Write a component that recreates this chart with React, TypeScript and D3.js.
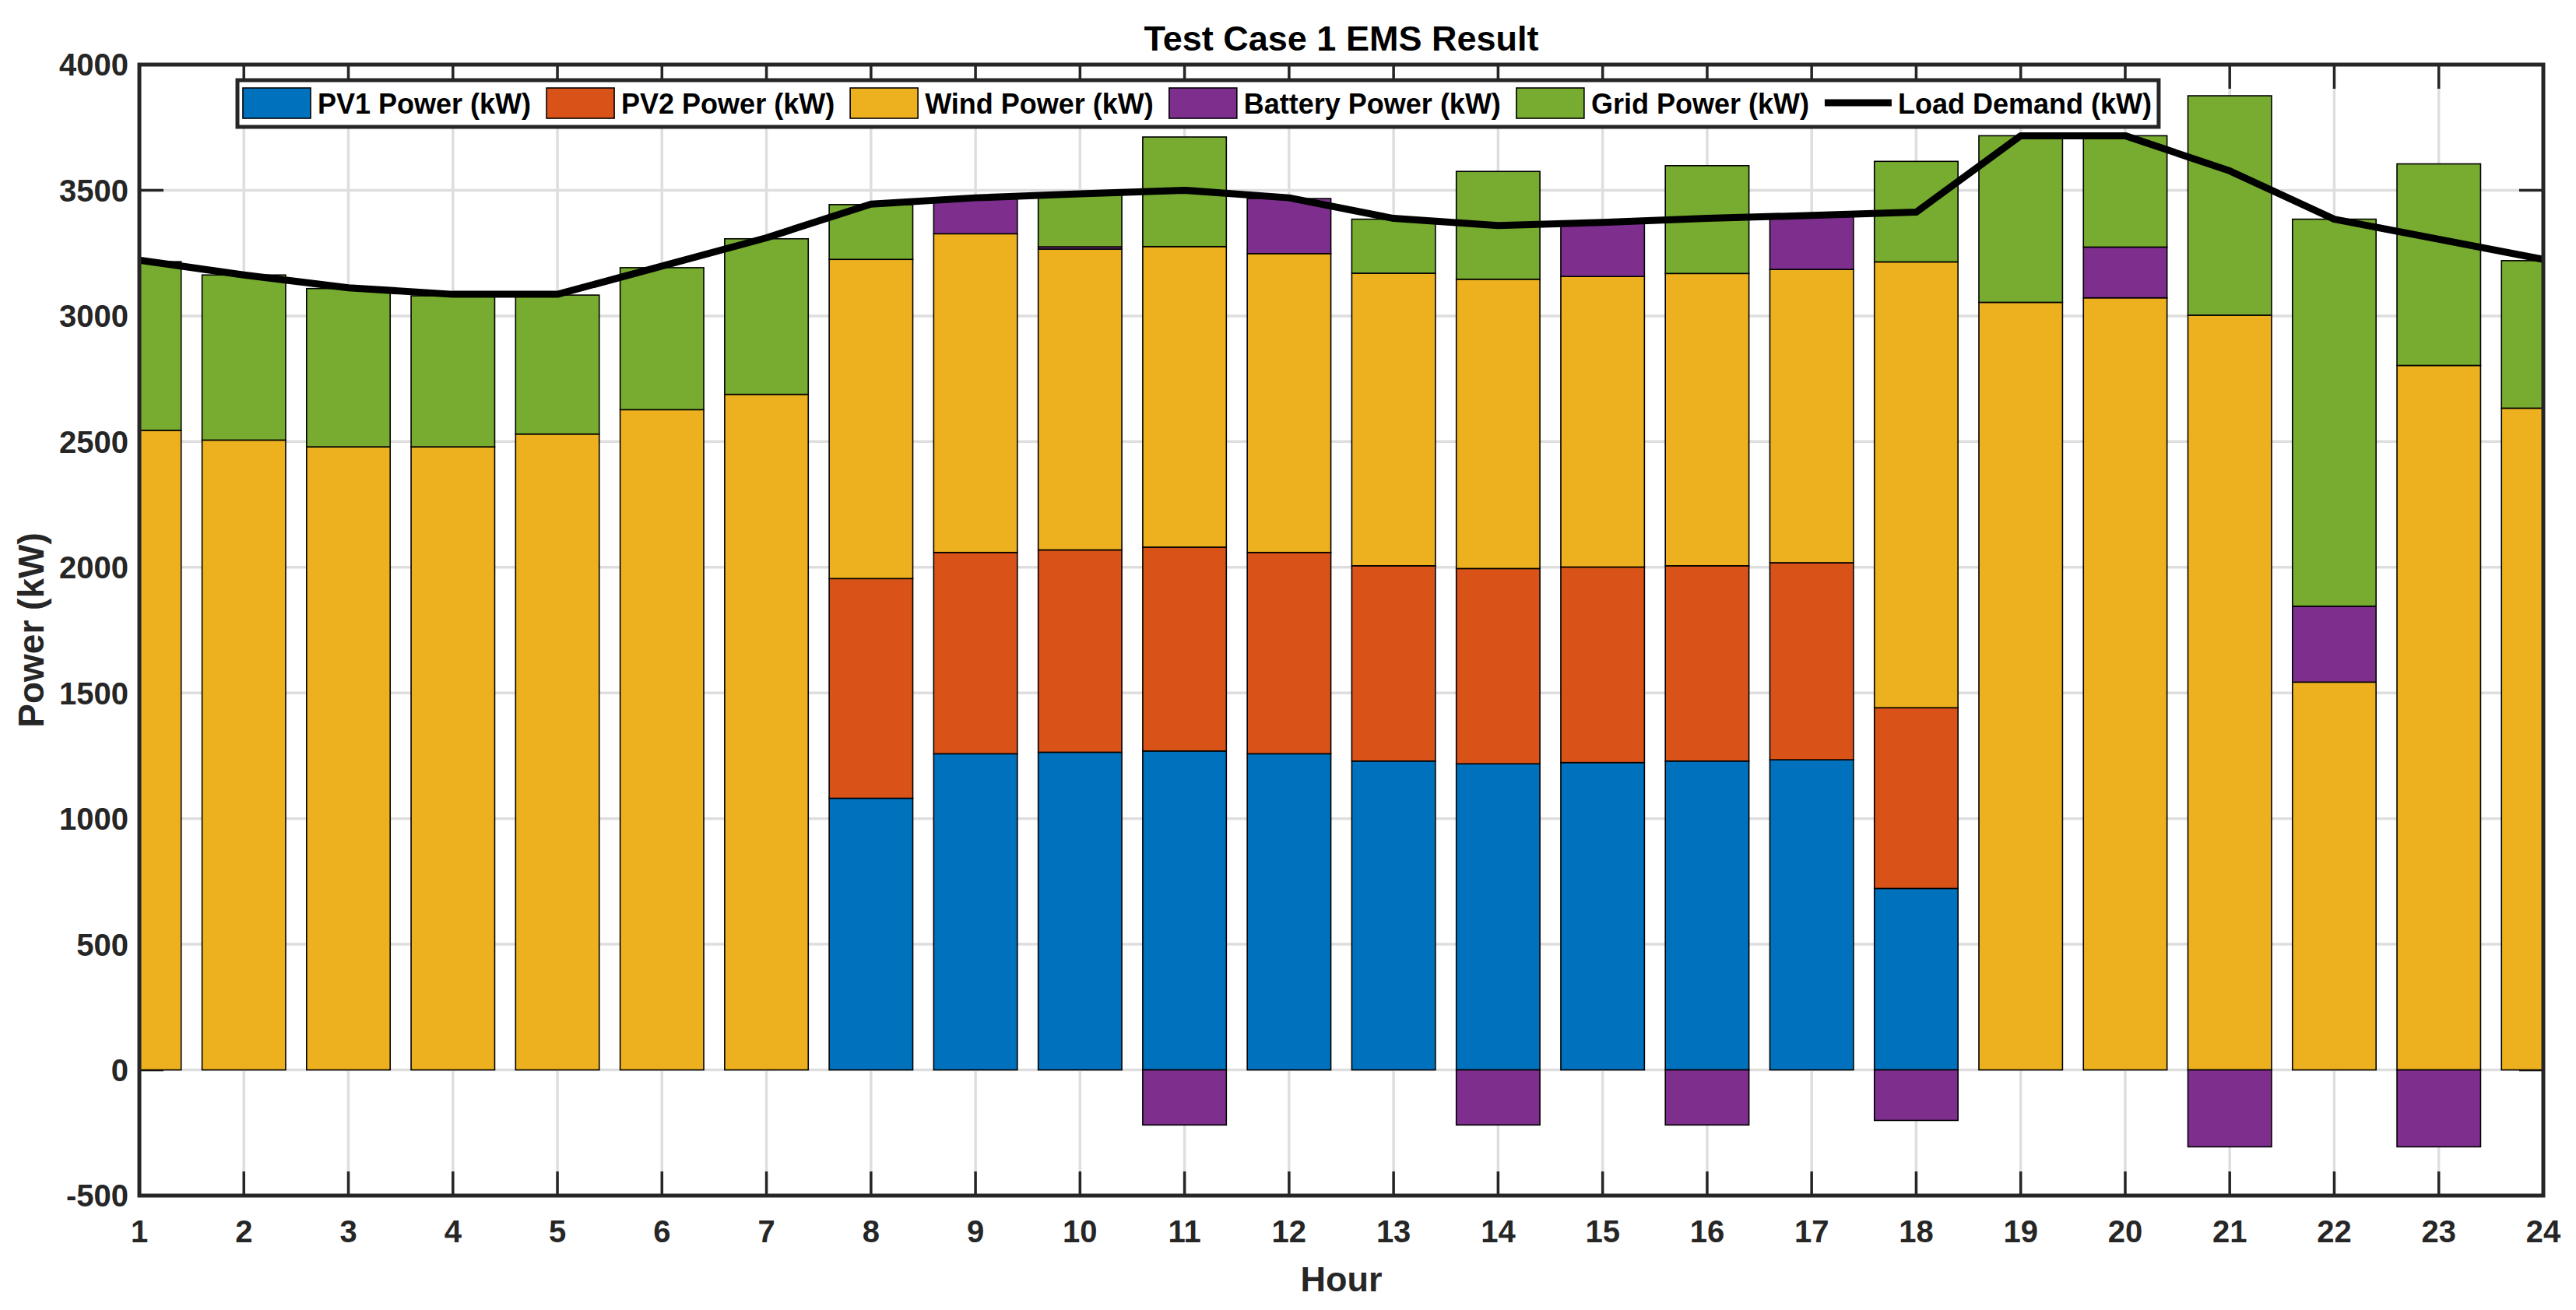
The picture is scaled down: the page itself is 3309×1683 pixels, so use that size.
import { useEffect, useRef } from "react";
import * as d3 from "d3";

const HOURS = [1, 2, 3, 4, 5, 6, 7, 8, 9, 10, 11, 12, 13, 14, 15, 16, 17, 18, 19, 20, 21, 22, 23, 24];

const PV1 = [0, 0, 0, 0, 0, 0, 0, 1081, 1258, 1264, 1269, 1258, 1229, 1218, 1223, 1229, 1234, 722, 0, 0, 0, 0, 0, 0];
const PV2 = [0, 0, 0, 0, 0, 0, 0, 874, 801, 805, 811, 801, 777, 777, 778, 777, 784, 719, 0, 0, 0, 0, 0, 0];
const WIND = [2545, 2506, 2479, 2479, 2530, 2627, 2688, 1270, 1268, 1197, 1196, 1189, 1164, 1151, 1156, 1163, 1167, 1774, 3054, 3072, 3003, 1543, 2803, 2633];
const BATTERY = [0, 0, 0, 0, 0, 0, 0, 0, 143, 9, -219, 219, 0, -219, 212, -219, 210, -201, 0, 202, -306, 302, -306, 0];
const GRID = [671, 657, 630, 601, 553, 565, 619, 218, 0, 207, 436, 0, 215, 429, 0, 429, 0, 400, 663, 443, 873, 1540, 802, 587];
const LOAD = [3222, 3163, 3112, 3086, 3086, 3198, 3311, 3445, 3470, 3486, 3500, 3470, 3388, 3360, 3372, 3388, 3400, 3413, 3717, 3717, 3577, 3385, 3305, 3225];

const Y_TICKS = [-500, 0, 500, 1000, 1500, 2000, 2500, 3000, 3500, 4000];

const SERIES = [
  { key: "pv1", label: "PV1 Power (kW)", color: "#0072BD", values: PV1 },
  { key: "pv2", label: "PV2 Power (kW)", color: "#D95319", values: PV2 },
  { key: "wind", label: "Wind Power (kW)", color: "#EDB120", values: WIND },
  { key: "battery", label: "Battery Power (kW)", color: "#7E2F8E", values: BATTERY },
  { key: "grid", label: "Grid Power (kW)", color: "#77AC30", values: GRID },
];
const LOAD_LABEL = "Load Demand (kW)";

const W = 3309;
const H = 1683;
const FONT = "'Liberation Sans', Arial, Helvetica, sans-serif";
const AXIS_COLOR = "#262626";

export default function App() {
  const svgRef = useRef<SVGSVGElement>(null);

  useEffect(() => {
    if (!svgRef.current) return;
    const svg = d3.select(svgRef.current);
    svg.selectAll("*").remove();

    const plot = { left: 179, right: 3267, top: 83, bottom: 1536 };
    const x = d3.scaleLinear().domain([1, 24]).range([plot.left, plot.right]);
    const y = d3.scaleLinear().domain([-500, 4000]).range([plot.bottom, plot.top]);

    svg.append("rect").attr("width", W).attr("height", H).attr("fill", "#fff");

    svg.append("defs").append("clipPath").attr("id", "plot-clip")
      .append("rect")
      .attr("x", plot.left).attr("y", plot.top)
      .attr("width", plot.right - plot.left).attr("height", plot.bottom - plot.top);

    // grid
    const grid = svg.append("g").attr("stroke", "#dedede").attr("stroke-width", 3.5);
    for (const h of HOURS) {
      grid.append("line").attr("x1", x(h)).attr("x2", x(h)).attr("y1", plot.top).attr("y2", plot.bottom);
    }
    for (const t of Y_TICKS) {
      grid.append("line").attr("x1", plot.left).attr("x2", plot.right).attr("y1", y(t)).attr("y2", y(t));
    }

    // inward ticks (drawn under the data, as MATLAB's bottom layer)
    const tickLen = 31;
    const ticks = svg.append("g").attr("stroke", AXIS_COLOR).attr("stroke-width", 3.5);
    for (const h of HOURS) {
      ticks.append("line").attr("x1", x(h)).attr("x2", x(h)).attr("y1", plot.bottom).attr("y2", plot.bottom - tickLen);
      ticks.append("line").attr("x1", x(h)).attr("x2", x(h)).attr("y1", plot.top).attr("y2", plot.top + tickLen);
    }
    for (const t of Y_TICKS) {
      ticks.append("line").attr("x1", plot.left).attr("x2", plot.left + tickLen).attr("y1", y(t)).attr("y2", y(t));
      ticks.append("line").attr("x1", plot.right).attr("x2", plot.right - tickLen).attr("y1", y(t)).attr("y2", y(t));
    }

    // stacked bars, negatives stacked below zero
    const rows = HOURS.map((h, i) => {
      const r: Record<string, number> = { hour: h };
      for (const s of SERIES) r[s.key] = s.values[i];
      return r;
    });
    const stacked = d3.stack<Record<string, number>>()
      .keys(SERIES.map((s) => s.key))
      .offset(d3.stackOffsetDiverging)(rows);

    const barHalf = 0.4;
    const bars = svg.append("g").attr("clip-path", "url(#plot-clip)");
    stacked.forEach((layer, li) => {
      bars.append("g")
        .selectAll("rect")
        .data(layer.filter((d) => d[1] !== d[0]))
        .enter()
        .append("rect")
        .attr("x", (d) => x(d.data.hour - barHalf))
        .attr("width", (d) => x(d.data.hour + barHalf) - x(d.data.hour - barHalf))
        .attr("y", (d) => y(Math.max(d[0], d[1])))
        .attr("height", (d) => Math.abs(y(d[0]) - y(d[1])))
        .attr("fill", SERIES[li].color)
        .attr("stroke", "#000")
        .attr("stroke-width", 1.6);
    });

    // load line
    const line = d3.line<number>().x((_d, i) => x(HOURS[i])).y((d) => y(d));
    svg.append("path")
      .attr("d", line(LOAD))
      .attr("fill", "none")
      .attr("stroke", "#000")
      .attr("stroke-width", 9)
      .attr("stroke-linejoin", "round");

    // box
    svg.append("rect")
      .attr("x", plot.left).attr("y", plot.top)
      .attr("width", plot.right - plot.left).attr("height", plot.bottom - plot.top)
      .attr("fill", "none").attr("stroke", AXIS_COLOR).attr("stroke-width", 5);

    // tick labels
    const labels = svg.append("g")
      .attr("font-family", FONT).attr("font-weight", "bold").attr("font-size", 40).attr("fill", AXIS_COLOR);
    for (const h of HOURS) {
      labels.append("text").attr("x", x(h)).attr("y", plot.bottom + 60)
        .attr("text-anchor", "middle").text(String(h));
    }
    for (const t of Y_TICKS) {
      labels.append("text").attr("x", plot.left - 14).attr("y", y(t)).attr("dy", "0.36em")
        .attr("text-anchor", "end").text(String(t));
    }

    // titles
    const midX = (plot.left + plot.right) / 2;
    const midY = (plot.top + plot.bottom) / 2;
    svg.append("text")
      .attr("x", midX).attr("y", 65).attr("text-anchor", "middle")
      .attr("font-family", FONT).attr("font-weight", "bold").attr("font-size", 45).attr("fill", "#000")
      .text("Test Case 1 EMS Result");
    svg.append("text")
      .attr("x", midX).attr("y", 1659).attr("text-anchor", "middle")
      .attr("font-family", FONT).attr("font-weight", "bold").attr("font-size", 45).attr("fill", AXIS_COLOR)
      .text("Hour");
    svg.append("text")
      .attr("transform", `translate(56,${midY}) rotate(-90)`).attr("text-anchor", "middle")
      .attr("font-family", FONT).attr("font-weight", "bold").attr("font-size", 46).attr("fill", AXIS_COLOR)
      .text("Power (kW)");

    // legend, laid out by measured text widths
    const lg = svg.append("g");
    const box = lg.append("rect")
      .attr("x", 305).attr("y", 103).attr("height", 60)
      .attr("fill", "#fff").attr("stroke", AXIS_COLOR).attr("stroke-width", 5);
    const items = lg.append("g")
      .attr("font-family", FONT).attr("font-weight", "bold").attr("font-size", 36).attr("fill", "#000");
    let cursor = 312;
    for (const s of SERIES) {
      items.append("rect")
        .attr("x", cursor).attr("y", 113).attr("width", 87).attr("height", 39)
        .attr("fill", s.color).attr("stroke", "#000").attr("stroke-width", 1.6);
      const txt = items.append("text").attr("x", cursor + 96).attr("y", 146).text(s.label);
      const w = (txt.node() as SVGTextElement).getComputedTextLength();
      cursor = cursor + 96 + w + 20;
    }
    items.append("line")
      .attr("x1", cursor).attr("x2", cursor + 86).attr("y1", 132).attr("y2", 132)
      .attr("stroke", "#000").attr("stroke-width", 9);
    const loadTxt = items.append("text").attr("x", cursor + 94).attr("y", 146).text(LOAD_LABEL);
    const lw = (loadTxt.node() as SVGTextElement).getComputedTextLength();
    box.attr("width", cursor + 94 + lw + 9 - 305);
  }, []);

  return (
    <svg
      ref={svgRef}
      width={W}
      height={H}
      style={{ position: "absolute", left: 0, top: 0, display: "block" }}
    />
  );
}
